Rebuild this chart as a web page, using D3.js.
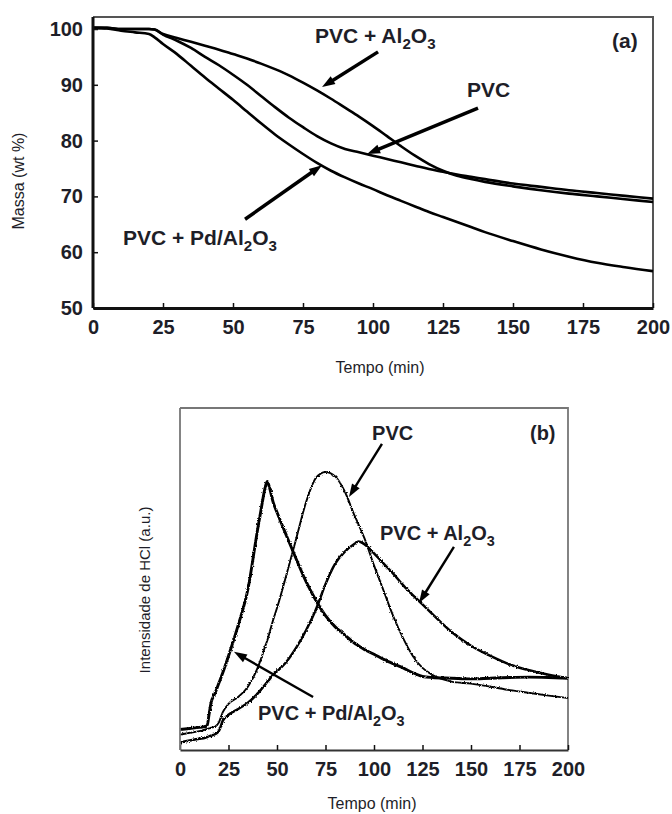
<!DOCTYPE html>
<html><head><meta charset="utf-8">
<script src="https://cdn.jsdelivr.net/npm/d3@7"></script>
<style>body{margin:0;background:#fff}</style>
</head><body><svg id="c" width="672" height="814"></svg>
<script>
// ---------- Data: panel (a) mass loss ----------
const timeA = [0,5,10,15,20,22,25,30,35,40,45,50,55,60,65,70,75,80,85,90,95,100,105,110,115,120,125,130,135,140,150,160,170,180,190,200];
const massPVC      = [100.2,100.2,100.0,100.0,100.0,99.9,99.0,97.9,96.6,95.0,93.5,91.8,90.0,88.0,86.0,84.1,82.4,80.8,79.5,78.5,77.9,77.3,76.7,76.1,75.5,74.9,74.4,73.9,73.5,73.1,72.3,71.7,71.1,70.6,70.1,69.6];
const massPVCAl2O3 = [100.2,100.2,100.0,100.0,100.0,99.9,99.1,98.4,97.7,97.0,96.3,95.5,94.7,93.8,92.8,91.7,90.4,89.0,87.5,85.9,84.3,82.6,80.8,79.0,77.3,75.8,74.6,73.7,73.1,72.6,71.8,71.1,70.5,70.0,69.5,69.0];
const massPVCPd    = [100.2,100.1,99.7,99.4,99.1,98.5,97.3,95.5,93.4,91.3,89.3,87.3,85.2,83.1,81.1,79.3,77.6,76.0,74.6,73.4,72.3,71.3,70.2,69.2,68.2,67.2,66.3,65.4,64.5,63.6,62.0,60.5,59.2,58.1,57.3,56.6];
const xTicksA = [0,25,50,75,100,125,150,175,200];
const yTicksA = [50,60,70,80,90,100];

// ---------- Data: panel (b) HCl evolution (a.u.) ----------
const timeB = [0,5,10,13,14,15,16,18,20,22,25,30,35,40,42,44,45,46,48,50,55,60,65,70,75,80,85,90,92,95,100,105,110,115,120,125,130,140,150,160,170,180,190,200];
const hclPVC      = [4.5,5.0,5.5,6.0,6.2,6.3,6.5,6.8,8.0,11.0,13.5,15.5,18.5,24.0,27.0,30.5,32.0,34.0,38.0,41.5,51.5,62.0,72.5,79.5,81.3,80.0,75.5,68.5,66.0,62.0,54.0,46.5,39.0,32.7,27.5,24.0,22.0,20.0,19.4,18.5,17.5,16.7,15.9,15.2];
const hclPVCAl2O3 = [2.2,2.8,3.3,3.6,3.8,4.0,4.2,4.6,5.5,8.5,10.3,12.0,13.8,16.5,17.8,19.2,20.0,20.6,22.0,23.0,25.9,30.0,35.0,41.0,48.5,54.5,58.0,60.3,61.0,60.2,57.5,54.5,51.5,48.2,45.3,42.6,39.8,34.5,30.5,27.5,25.0,23.3,22.0,21.0];
const hclPVCPd    = [6.0,6.3,6.6,6.9,7.2,10.5,13.8,16.5,19.5,22.5,27.5,36.5,47.0,64.5,71.0,77.0,78.5,77.0,72.5,69.5,62.5,55.7,49.2,43.8,39.3,36.0,33.6,31.2,30.5,29.4,28.0,26.5,25.2,24.0,22.6,21.5,21.2,21.0,20.8,21.0,21.2,21.3,21.2,21.0];
const xTicksB = [0,25,50,75,100,125,150,175,200];

// ---------- Annotations (data coordinates) ----------
const annotA = [
  {parts:[{s:'PVC + Al'},{s:'2',sub:1},{s:'O'},{s:'3',sub:1}], t:79.3, v:97.5, from:[101.8,95.9], to:[81.8,89.6]},
  {parts:[{s:'PVC'}], t:133.6, v:87.8, from:[137.5,85.8], to:[97.9,77.6]},
  {parts:[{s:'PVC + Pd/Al'},{s:'2',sub:1},{s:'O'},{s:'3',sub:1}], t:10.7, v:61.3, from:[54.3,65.9], to:[81.8,75.6]},
  {parts:[{s:'(a)'}], t:185.4, v:96.6}
];
const annotB = [
  {parts:[{s:'PVC'}], t:99, v:90.6, from:[104.1,89.5], to:[87.1,74.0]},
  {parts:[{s:'PVC + Al'},{s:'2',sub:1},{s:'O'},{s:'3',sub:1}], t:103.1, v:61.4, from:[141.2,59.4], to:[123.2,43.0]},
  {parts:[{s:'PVC + Pd/Al'},{s:'2',sub:1},{s:'O'},{s:'3',sub:1}], t:40.2, v:8.8, from:[68.6,15.5], to:[27.8,28.7]},
  {parts:[{s:'(b)'}], t:180.4, v:90.6}
];

const svg = d3.select('#c');
const FONT = "'Liberation Sans', Arial, sans-serif";
const TXT = '#1e1e28';

const defs = svg.append('defs');
const filt = defs.append('filter').attr('id','rough').attr('filterUnits','userSpaceOnUse')
  .attr('x',0).attr('y',380).attr('width',672).attr('height',400);
filt.append('feTurbulence').attr('type','fractalNoise').attr('baseFrequency',0.8).attr('numOctaves',1).attr('seed',4).attr('result','n');
filt.append('feDisplacementMap').attr('in','SourceGraphic').attr('in2','n').attr('scale',3)
  .attr('xChannelSelector','R').attr('yChannelSelector','G');

function richText(g, x, y, parts, size, weight) {
  const t = g.append('text').attr('x',x).attr('y',y).attr('font-size',size)
    .attr('font-family',FONT).attr('font-weight',weight).attr('fill',TXT);
  let sub = false;
  parts.forEach(p => {
    const ts = t.append('tspan').text(p.s);
    if (p.sub) ts.attr('font-size', size*0.72);
    if (p.sub && !sub) ts.attr('dy', size*0.3);
    if (!p.sub && sub) ts.attr('dy', -size*0.3);
    sub = !!p.sub;
  });
}

function arrow(g, x1, y1, x2, y2, w, hl, hw) {
  const dx = x2-x1, dy = y2-y1, L = Math.hypot(dx,dy), ux = dx/L, uy = dy/L;
  const bx = x2 - ux*hl, by = y2 - uy*hl;
  g.append('line').attr('x1',x1).attr('y1',y1).attr('x2',bx+ux*1).attr('y2',by+uy*1)
    .attr('stroke','#000').attr('stroke-width',w);
  g.append('path').attr('d',`M${x2},${y2}L${bx - uy*hw/2},${by + ux*hw/2}L${bx + uy*hw/2},${by - ux*hw/2}Z`)
    .attr('fill','#000');
}

function panel(cfg) {
  const g = svg.append('g');
  const x = d3.scaleLinear().domain([0,200]).range([cfg.left,cfg.right]);
  const y = d3.scaleLinear().domain(cfg.ydom).range([cfg.bottom,cfg.top]);

  g.append('path').attr('d',`M${cfg.left},${cfg.top}H${cfg.right}V${cfg.bottom}`)
    .attr('fill','none').attr('stroke',cfg.frameColor).attr('stroke-width',cfg.frameW);

  const line = d3.line().x(d=>x(d[0])).y(d=>y(d[1])).curve(d3.curveMonotoneX);
  const lg = g.append('g');
  if (cfg.rough) lg.attr('filter','url(#rough)');
  cfg.series.forEach(s => {
    lg.append('path').datum(cfg.time.map((t,i)=>[t,s.vals[i]]))
      .attr('d',line).attr('fill','none').attr('stroke','#000')
      .attr('stroke-width',s.w).attr('stroke-linejoin','round');
  });

  const xa = g.append('g').attr('transform',`translate(0,${cfg.bottom})`)
    .call(d3.axisBottom(x).tickValues(cfg.xticks).tickSizeInner(-5).tickSizeOuter(0).tickPadding(cfg.xpad));
  xa.select('.domain').attr('stroke',cfg.axisColor).attr('stroke-width',cfg.axisW);
  xa.selectAll('.tick line').attr('stroke','#111').attr('stroke-width',1.5);
  xa.selectAll('.tick text').attr('font-size',cfg.tickFont).attr('font-family',FONT)
    .attr('font-weight','bold').attr('fill',TXT);

  const ya = g.append('g').attr('transform',`translate(${cfg.left},0)`);
  if (cfg.yticks) {
    ya.call(d3.axisLeft(y).tickValues(cfg.yticks).tickSizeInner(-5).tickSizeOuter(0).tickPadding(10));
    ya.selectAll('.tick text').attr('font-size',cfg.tickFont).attr('font-family',FONT)
      .attr('font-weight','bold').attr('fill',TXT);
    ya.selectAll('.tick line').attr('stroke','#111').attr('stroke-width',1.5);
    ya.select('.domain').remove();
  }
  ya.append('line').attr('x1',0).attr('x2',0).attr('y1',cfg.top).attr('y2',cfg.bottom)
    .attr('stroke',cfg.yAxisColor).attr('stroke-width',cfg.yAxisW);

  g.append('text').attr('x',cfg.xtitle[0]).attr('y',cfg.xtitle[1]).attr('text-anchor','middle')
    .attr('font-family',FONT).attr('font-size',16).attr('fill',TXT).text('Tempo (min)');
  g.append('text').attr('transform',`translate(${cfg.ytitle[0]},${cfg.ytitle[1]}) rotate(-90)`)
    .attr('text-anchor','middle').attr('font-family',FONT).attr('font-size',cfg.ytitleSize)
    .attr('fill',TXT).text(cfg.ytitleText);

  cfg.annot.forEach(a => {
    richText(g, x(a.t), y(a.v), a.parts, cfg.annFont, 'bold');
    if (a.from) arrow(g, x(a.from[0]), y(a.from[1]), x(a.to[0]), y(a.to[1]), cfg.arrowW, cfg.headL, cfg.headW);
  });
}

panel({
  left:93, right:653, top:17, bottom:308, ydom:[50,102.15],
  time: timeA,
  series:[{vals:massPVC,w:2.6},{vals:massPVCAl2O3,w:2.6},{vals:massPVCPd,w:2.6}],
  xticks:xTicksA, yticks:yTicksA, xpad:12, tickFont:20,
  frameColor:'#555', frameW:2, axisColor:'#111', axisW:3, yAxisColor:'#111', yAxisW:3,
  xtitle:[380,373], ytitle:[24,181], ytitleSize:16, ytitleText:'Massa (wt %)',
  annot:annotA, annFont:21, arrowW:3.5, headL:13, headW:9
});

panel({
  left:180, right:568, top:408, bottom:750, ydom:[0,100],
  time: timeB,
  series:[{vals:hclPVC,w:1.9},{vals:hclPVCAl2O3,w:2.5},{vals:hclPVCPd,w:2.9}],
  xticks:xTicksB, yticks:null, xpad:12, tickFont:20, rough:true,
  frameColor:'#777', frameW:1.8, axisColor:'#333', axisW:2.2, yAxisColor:'#777', yAxisW:1.8,
  xtitle:[372,809], ytitle:[150,590], ytitleSize:15, ytitleText:'Intensidade de HCl (a.u.)',
  annot:annotB, annFont:20, arrowW:2.4, headL:13, headW:9
});
</script></body></html>
